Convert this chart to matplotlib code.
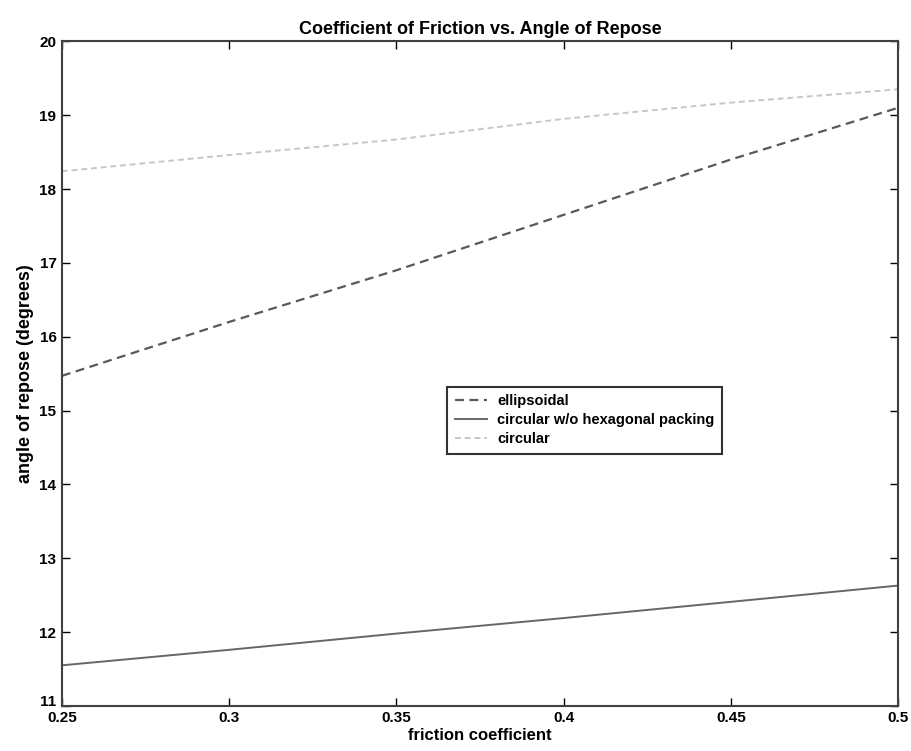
import numpy as np
import matplotlib.pyplot as plt
import matplotlib.transforms as mtransforms

# ===============================================================
# data
# ===============================================================
friction = [0.25, 0.30, 0.35, 0.40, 0.45, 0.50]
ellipsoidal = [15.47, 16.20, 16.90, 17.65, 18.40, 19.10]
circular_nohex = [11.55, 11.76, 11.98, 12.19, 12.41, 12.63]
circular = [18.24, 18.46, 18.67, 18.95, 19.17, 19.35]

xticks = [0.25, 0.3, 0.35, 0.4, 0.45, 0.5]
xticklabels = ['0.25', '0.3', '0.35', '0.4', '0.45', '0.5']
yticks = [11, 12, 13, 14, 15, 16, 17, 18, 19, 20]

plt.rcParams['font.family'] = ['Liberation Sans', 'DejaVu Sans']
plt.rcParams['font.weight'] = 'bold'

fig = plt.figure(figsize=(9.11, 7.51), dpi=100)
ax = fig.add_axes([0.068, 0.06, 0.918, 0.885])

ax.plot(friction, ellipsoidal, color='0.35', ls=(0, (4, 2.5)), lw=1.6, label='ellipsoidal')
ax.plot(friction, circular_nohex, color='0.4', ls='-', lw=1.4, label='circular w/o hexagonal packing')
ax.plot(friction, circular, color='0.78', ls=(0, (3, 2)), lw=1.4, label='circular')

ax.set_xlim(0.25, 0.5)
ax.set_ylim(11, 20)
ax.set_xticks(xticks)
ax.set_xticklabels(xticklabels)
ax.set_yticks(yticks)
ax.tick_params(direction='in', top=True, right=True, length=6, width=1, labelsize=11, pad=4)

# lift the "11" a little so it sits just above "0.25" as in the scan
lbl11 = ax.get_yticklabels()[0]
lbl11.set_transform(lbl11.get_transform() + mtransforms.ScaledTranslation(0, 4 / 72, fig.dpi_scale_trans))

for s in ax.spines.values():
    s.set_linewidth(1.5)
    s.set_color('0.25')

ax.set_title('Coefficient of Friction vs. Angle of Repose', fontsize=13, fontweight='bold', pad=5)
ax.set_xlabel('friction coefficient', fontsize=12, fontweight='bold', labelpad=2)
ax.set_ylabel('angle of repose (degrees)', fontsize=13, fontweight='bold', labelpad=4)

leg = ax.legend(loc='center left', bbox_to_anchor=(0.461, 0.43), borderaxespad=0,
                prop={'size': 10.5, 'weight': 'bold'},
                fancybox=False, framealpha=1, edgecolor='0.2', handlelength=2.2,
                borderpad=0.5, labelspacing=0.35, handletextpad=0.7)
leg.get_frame().set_linewidth(1.5)

fig.savefig('out.png', dpi=100)
